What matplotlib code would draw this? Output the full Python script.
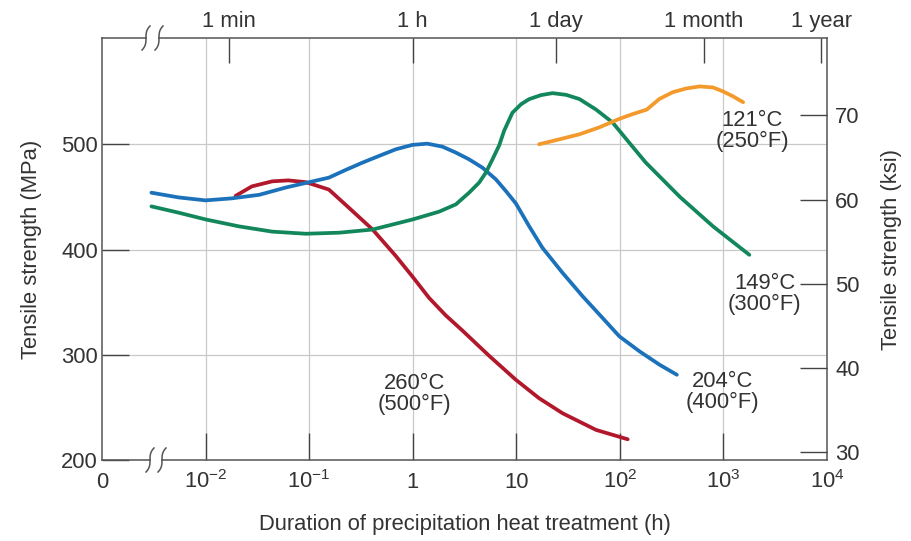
import numpy as np
import matplotlib
matplotlib.use("Agg")
import matplotlib.pyplot as plt
from matplotlib.patches import Rectangle

plt.rcParams['font.family'] = ['Liberation Sans', 'DejaVu Sans']
plt.rcParams['mathtext.fontset'] = 'custom'
plt.rcParams['mathtext.rm'] = 'Liberation Sans'
plt.rcParams['mathtext.default'] = 'regular'

# ---------------- data ----------------
blue_x = [0.0030, 0.0055, 0.010, 0.0178, 0.033, 0.060, 0.10, 0.155, 0.225, 0.326, 0.472,
          0.685, 0.99, 1.38, 1.93, 2.61, 3.50, 4.71, 6.35, 7.93, 9.91, 13.3, 17.9,
          28.0, 43.7, 68.2, 98.9, 155, 242, 355]
blue_y = [454, 449.5, 446.7, 448.6, 452, 459, 464, 468.3, 475.6, 482.5, 488.9,
          495.2, 499.4, 500.6, 497.8, 492.1, 485.7, 477.8, 466.7, 455.6, 443.8, 422.2, 401.6,
          377.8, 355.6, 334.9, 317.5, 303.2, 290.5, 281]

red_x = [0.0195, 0.028, 0.044, 0.063, 0.093, 0.155, 0.242, 0.41, 0.685, 1.0, 1.44,
         2.08, 3.02, 5.47, 9.91, 16.6, 28.0, 58.9, 119]
red_y = [451, 460, 464.8, 465.7, 464, 457, 439.7, 419, 394, 374, 354,
         337.5, 323, 299, 276.2, 258.7, 244.4, 228.6, 219.7]

green_x = [0.003, 0.0055, 0.01, 0.021, 0.044, 0.093, 0.195, 0.41, 1.0, 1.8, 2.61, 3.50,
           4.37, 5.08, 5.89, 6.84, 7.64, 9.18, 11.1, 13.3, 17.3, 22.4, 30.2, 40.7,
           58.9, 85.1, 123, 178, 380, 794, 1778]
green_y = [441, 435, 428.6, 422, 417, 415, 416, 419, 428.6, 436, 442.9, 454,
           463.5, 473, 485.7, 499, 513, 530, 538, 542.9, 546.7, 548.6, 547, 543,
           533, 520.7, 501.6, 482.6, 450, 422, 395]

orange_x = [16.6, 26.3, 40.7, 63, 98, 132, 182, 240, 324, 436, 589, 794, 977, 1230, 1549]
orange_y = [500, 504.8, 509.5, 516, 524, 528.6, 533, 543, 549.5, 553, 555, 554, 550.5, 545.7, 540]

series_colors = {'red': '#b2182b', 'blue': '#1b72bb', 'green': '#13875c', 'orange': '#f49a2c'}

curve_labels = ["260°C\n(500°F)", "204°C\n(400°F)", "149°C\n(300°F)", "121°C\n(250°F)"]
curve_label_x = [1.04, 980, 2500, 1900]
curve_label_y = [263, 265, 358, 513]

xtick_vals = [1e-3, 1e-2, 1e-1, 1, 10, 1e2, 1e3, 1e4]
xtick_labels = ["0", r"$10^{-2}$", r"$10^{-1}$", "1", "10", r"$10^{2}$", r"$10^{3}$", r"$10^{4}$"]
ytick_vals = [200, 300, 400, 500]
ksi_ticks = [30, 40, 50, 60, 70]
time_vals = [1/60, 1, 24, 650, 8760]
time_labels = ["1 min", "1 h", "1 day", "1 month", "1 year"]

# ---------------- figure ----------------
fig = plt.figure(figsize=(9.12, 5.41), dpi=100)
ax = fig.add_axes([102/912, 81/541, 725/912, 422/541])
txt = '#333333'
spc = '#555555'
fs = 15.8

ax.set_xscale('log')
ax.set_xlim(1e-3, 1e4)
ax.set_ylim(200, 601)
ax.set_axisbelow(True)

for s in ax.spines.values():
    s.set_color(spc)
    s.set_linewidth(1.1)

ax.set_xticks([1e-2, 1e-1, 1, 10, 1e2, 1e3])
ax.xaxis.set_minor_locator(matplotlib.ticker.NullLocator())
ax.tick_params(axis='x', which='major', direction='in', length=19.5, width=1.0,
               color='#444444', labelbottom=False)
ax.set_yticks(ytick_vals)
ax.tick_params(axis='y', which='major', direction='in', length=19.5, width=1.0,
               color='#444444', labelsize=fs, labelcolor=txt, pad=3)
ax.grid(True, which='major', color='#c9c9c9', linewidth=0.9)

# bottom tick labels (baseline aligned)
for v, lab in zip(xtick_vals, xtick_labels):
    ax.text(v, -28/422, lab, transform=ax.get_xaxis_transform(), ha='center',
            va='baseline', fontsize=fs, color=txt)

# curves
lw = 2.7
kw = dict(lw=lw, solid_capstyle='round', solid_joinstyle='round', zorder=3)
ax.plot(red_x, red_y, color=series_colors['red'], **kw)
ax.plot(blue_x, blue_y, color=series_colors['blue'], **kw)
ax.plot(green_x, green_y, color=series_colors['green'], **kw)
ax.plot(orange_x, orange_y, color=series_colors['orange'], **kw)

for lab, lx, ly in zip(curve_labels, curve_label_x, curve_label_y):
    ax.text(lx, ly, lab, ha='center', va='center', fontsize=fs, color=txt,
            linespacing=1.0, zorder=4)

ax.set_xlabel("Duration of precipitation heat treatment (h)", fontsize=fs, color=txt, labelpad=39)
ax.set_ylabel("Tensile strength (MPa)", fontsize=fs, color=txt, labelpad=14)

# right ksi axis
ax2 = ax.twinx()
ax2.set_ylim(29.05, 79.2)
ax2.set_yticks(ksi_ticks)
ax2.tick_params(axis='y', direction='in', length=19.5, width=1.0, color='#444444',
                labelsize=fs, labelcolor=txt, pad=6)
for s in ax2.spines.values():
    s.set_visible(False)
ax2.set_ylabel("Tensile strength (ksi)", fontsize=fs, color=txt, labelpad=15)

# top time axis
ax3 = ax.twiny()
ax3.set_xscale('log')
ax3.set_xlim(1e-3, 1e4)
ax3.set_xticks(time_vals)
ax3.xaxis.set_minor_locator(matplotlib.ticker.NullLocator())
ax3.tick_params(axis='x', direction='in', length=18, width=1.0, color='#444444',
                labeltop=False)
for s in ax3.spines.values():
    s.set_visible(False)
for v, lab in zip(time_vals, time_labels):
    ax.text(v, 1 + 11/422, lab, transform=ax.get_xaxis_transform(), ha='center',
            va='baseline', fontsize=fs, color=txt)

# axis-break marks
def add_break(xc1, xc2, yc):
    W, H = 725.0, 422.0
    ax.add_patch(Rectangle(((xc1 + 1) / W, yc - 3 / H), (xc2 - xc1 - 2) / W, 6 / H,
                           transform=ax.transAxes, facecolor='white', edgecolor='none',
                           clip_on=False, zorder=5))
    s = np.linspace(-1, 1, 40)
    for xc in (xc1, xc2):
        ax.plot((xc + 4.0 * s ** 3) / W, yc + 12 * s / H, transform=ax.transAxes,
                color=spc, lw=1.1, clip_on=False, zorder=6)

add_break(48, 60, 0.0)
add_break(44, 57, 1.0)

fig.savefig("out.png", dpi=100)
